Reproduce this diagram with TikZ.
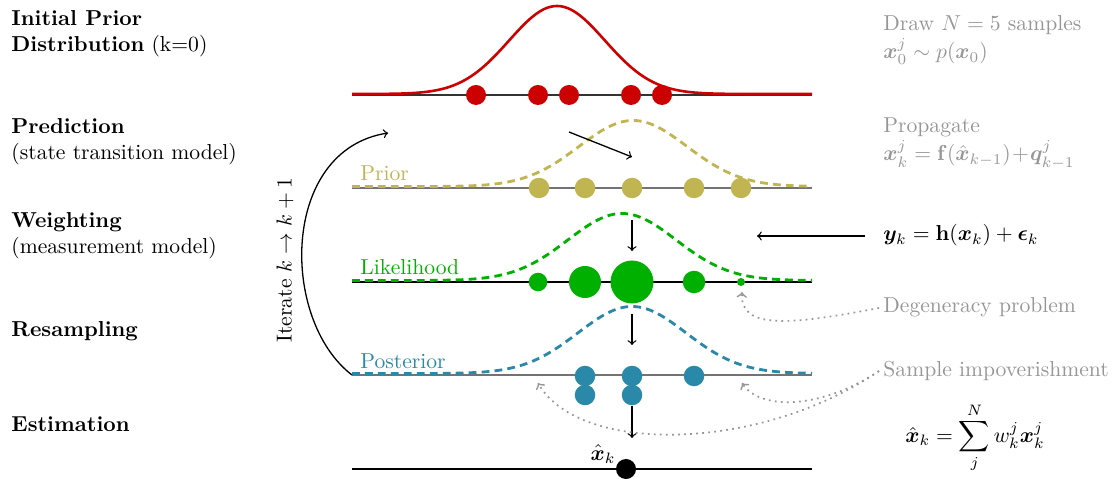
\documentclass[tikz,border=0pt]{standalone}
\usepackage{amsmath,bm}
\definecolor{cred}{RGB}{204,0,0}
\definecolor{colive}{RGB}{193,181,82}
\definecolor{cgreen}{RGB}{0,176,0}
\definecolor{cteal}{RGB}{42,136,168}
\definecolor{cgray}{RGB}{150,150,150}
\begin{document}
\begin{tikzpicture}[x=0.01627cm,y=-0.01627cm,
  lbl/.style={anchor=base west,inner sep=0pt},
  note/.style={anchor=base west,inner sep=0pt,text=cgray},
  axis/.style={line width=0.6pt},
  dcurve/.style={line width=1.3pt,dash pattern=on 3.6pt off 2.4pt},
  dot/.style={circle,inner sep=0pt,minimum size={#1*0.463pt}},
  flow/.style={->,line width=0.6pt},
  hint/.style={->,cgray,dotted,line width=0.8pt}]
\useasboundingbox (0,0) rectangle (1115,479);

% left labels
\node[lbl] (l0a) at (11,26) {\textbf{Initial Prior}};
\node[lbl] (l0b) at (11,52) {\textbf{Distribution} (k=0)};
\node[lbl] (l1a) at (11,134) {\textbf{Prediction}};
\node[lbl] (l1b) at (11,160) {(state transition model)};
\node[lbl] (l2a) at (11,228) {\textbf{Weighting}};
\node[lbl] (l2b) at (11,254) {(measurement model)};
\node[lbl] (l3a) at (11,336) {\textbf{Resampling}};
\node[lbl] (l4a) at (11,431) {\textbf{Estimation}};

% right notes
\node[note] (n0a) at (883,31) {Draw $N=5$ samples};
\node[note] (n0b) at (883,59) {$\bm{x}_0^j\sim p(\bm{x}_0)$};
\node[note] (n1a) at (883,133) {Propagate};
\node[note] (n1b) at (883,161) {$\bm{x}_k^j=\mathbf{f}(\hat{\bm{x}}_{k-1})\!+\!\bm{q}_{k-1}^j$};
\node[lbl] (meas) at (883,241) {$\bm{y}_k=\mathbf{h}(\bm{x}_k)+\bm{\epsilon}_k$};
\node[note] (degen) at (883,313) {Degeneracy problem};
\node[note] (impov) at (883,376) {Sample impoverishment};
\node[inner sep=0pt] (est) at (975,438) {$\displaystyle\hat{\bm{x}}_k=\sum_{j}^{N} w_k^j\bm{x}_k^j$};

% row 0: initial prior
\draw[axis,black!80] (352,95) -- (812,95);
\draw[cred,line width=1.2pt,smooth,samples=140,domain=352:812]
  plot (\x,{94-88*exp(-0.5*((\x-557)/48)^2)});
\foreach \i/\xx in {1/476,2/538,3/569,4/631,5/662}
  \node[dot=20,fill=cred] (r\i) at (\xx,95) {};

% row 1: prior
\draw[axis,black!55] (352,188) -- (812,188);
\draw[colive,dcurve,smooth,samples=140,domain=352:812]
  plot (\x,{186.5-66*exp(-0.5*((\x-633)/54)^2)});
\node[lbl,text=colive] (tprior) at (360,181) {Prior};
\foreach \i/\xx in {1/539,2/585,3/632,4/694,5/741}
  \node[dot=20.5,fill=colive] (p\i) at (\xx,188) {};

% row 2: likelihood
\draw[axis,black] (352,282) -- (812,282);
\draw[cgreen,dcurve,smooth,samples=140,domain=352:812]
  plot (\x,{280.5-67*exp(-0.5*((\x-622)/54)^2)});
\node[lbl,text=cgreen] (tlik) at (360,275) {Likelihood};
\node[dot=18.5,fill=cgreen] (w1) at (538,282) {};
\node[dot=32,fill=cgreen] (w2) at (585,282) {};
\node[dot=43,fill=cgreen] (w3) at (632,282) {};
\node[dot=22.5,fill=cgreen] (w4) at (694,282) {};
\node[dot=8,fill=cgreen] (w5) at (741,282) {};

% row 3: posterior
\draw[axis,black!55] (352,375) -- (812,375);
\draw[cteal,dcurve,smooth,samples=140,domain=352:812]
  plot (\x,{373.5-67*exp(-0.5*((\x-632)/54)^2)});
\node[lbl,text=cteal] (tpost) at (360,368) {Posterior};
\node[dot=20.5,fill=cteal] (s1) at (585,376) {};
\node[dot=20.5,fill=cteal] (s2) at (585,395) {};
\node[dot=20.5,fill=cteal] (s3) at (632,376) {};
\node[dot=20.5,fill=cteal] (s4) at (632,395) {};
\node[dot=20.5,fill=cteal] (s5) at (694,376) {};

% row 4: estimation
\draw[axis,black] (352,469) -- (812,469);
\node[dot=20,fill=black] (xhat) at (626,469) {};
\node[inner sep=0pt] (txhat) at (603,454) {$\hat{\bm{x}}_k$};

% flow arrows
\coordinate (a0s) at (569,132);
\coordinate (a0e) at (632,157);
\draw[flow] (a0s) -- (a0e);
\coordinate (a1s) at (632,220);
\coordinate (a1e) at (632,251);
\draw[flow] (a1s) -- (a1e);
\coordinate (a2s) at (632,314);
\coordinate (a2e) at (632,345);
\draw[flow] (a2s) -- (a2e);
\coordinate (a3e) at (632,438);
\draw[flow] (s4.south) -- (a3e);
\coordinate (mtip) at (757,236);
\coordinate (mstart) at (865,236);
\draw[flow] (mstart) -- (mtip);

% iterate loop
\coordinate (itS) at (352,375);
\coordinate (itE) at (388,133);
\draw[flow] (itS) .. controls (280,320) and (280,150) .. (itE);
\node[rotate=90,inner sep=0pt] (iter) at (285,260) {Iterate $k\rightarrow k+1$};

% problem hints
\coordinate (dgt) at (742,292);
\coordinate (dgs) at (879,308);
\coordinate (ims) at (879,371);
\coordinate (imt1) at (742,383);
\coordinate (imt2) at (538,383);
\draw[hint] (dgs) .. controls (790,325) and (740,330) .. (dgt);
\draw[hint] (ims) .. controls (820,410) and (760,410) .. (imt1);
\draw[hint] (ims) .. controls (760,452) and (580,455) .. (imt2);
\end{tikzpicture}
\end{document}
